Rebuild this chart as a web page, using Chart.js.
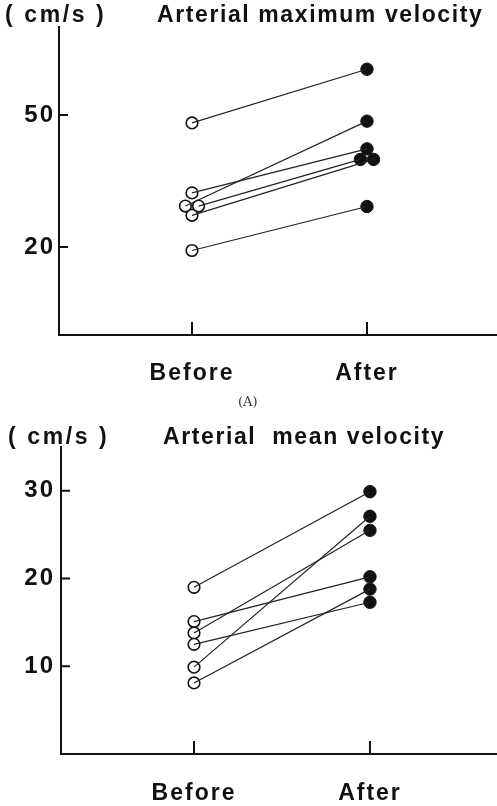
<!DOCTYPE html>
<html>
<head>
<meta charset="utf-8">
<script src="https://cdn.jsdelivr.net/npm/chart.js@4.4.1/dist/chart.umd.min.js"></script>
<style>
  body { margin: 0; background: #fff; }
  #page { position: relative; width: 497px; height: 806px; overflow: hidden;
    font-family: "Liberation Sans", Arial, sans-serif; color: #111; }
  .lbl { position: absolute; font-size: 23px; line-height: 23px; font-weight: bold;
    letter-spacing: 1.6px; white-space: nowrap; }
  .unit { letter-spacing: 2.6px; }
  .box { position: absolute; left: 0; }
  #capA { position: absolute; left: 238px; top: 394px; font: 13px "DejaVu Serif", serif; color: #333; }
</style>
</head>
<body>
<div id="page">
  <div class="box" style="top:0"><canvas id="maxChart" width="497" height="400"></canvas></div>
  <div class="box" style="top:400px"><canvas id="meanChart" width="497" height="406"></canvas></div>

  <div class="lbl unit" style="left:5px;top:3px">( cm/s )</div>
  <div class="lbl" style="left:157px;top:3px">Arterial maximum velocity</div>
  <div id="capA">(A)</div>
  <div class="lbl unit" style="left:8px;top:425px">( cm/s )</div>
  <div class="lbl" style="left:163px;top:425px">Arterial&nbsp; mean velocity</div>
</div>

<script>
// ---- data ----
const categories = ['Before', 'After'];

// (A) arterial maximum velocity, cm/s, one entry per subject
const maxBefore = [48.2, 32.3, 29.3, 29.3, 27.2, 19.2];
const maxAfter  = [60.4, 42.3, 48.6, 39.9, 39.9, 29.2];
const maxTicks  = [20, 50];

// arterial mean velocity, cm/s
const meanBefore = [19.0, 15.1, 13.8, 12.5, 9.9, 8.1];
const meanAfter  = [29.9, 20.2, 25.5, 17.3, 27.1, 18.8];
const meanTicks  = [10, 20, 30];

// ---- helpers ----
// spread equal values sideways so overlapping dots stay visible
function dodge(vals, i, step) {
  const same = vals.map((v, j) => v === vals[i] ? j : -1).filter(j => j >= 0);
  if (same.length < 2) return 0;
  return (same.indexOf(i) - (same.length - 1) / 2) * step;
}

// tick marks point into the plot, like the printed figure
const inwardTicks = {
  id: 'inwardTicks',
  beforeDraw(chart) { chart.ctx.letterSpacing = '2px'; },
  afterDraw(chart) {
    const { ctx, chartArea, scales } = chart;
    ctx.save();
    ctx.strokeStyle = '#111';
    ctx.lineWidth = 2;
    ctx.beginPath();
    scales.y.ticks.forEach(t => {
      const y = scales.y.getPixelForValue(t.value);
      ctx.moveTo(chartArea.left, y); ctx.lineTo(chartArea.left + 9, y);
    });
    scales.x.ticks.forEach(t => {
      const x = scales.x.getPixelForValue(t.value);
      ctx.moveTo(x, chartArea.bottom); ctx.lineTo(x, chartArea.bottom - 13);
    });
    ctx.stroke();
    ctx.restore();
  }
};

function makeChart(id, before, after, yTicks, yMax, lay) {
  const step = 0.075;
  const pts = (vals, base) => vals.map((v, i) => ({ x: base + dodge(vals, i, step), y: v }));
  const bPts = pts(before, 0), aPts = pts(after, 1);

  const lines = before.map((_, i) => ({
    data: [bPts[i], aPts[i]],
    showLine: true,
    borderColor: '#222',
    borderWidth: 1.2,
    pointRadius: 0
  }));

  const tickFont = { family: '"Liberation Sans", Arial, sans-serif', size: 23, weight: 'bold' };

  return new Chart(document.getElementById(id), {
    type: 'scatter',
    data: {
      datasets: [
        ...lines,
        { data: bPts, pointRadius: 5.8, pointBorderWidth: 1.6, pointBackgroundColor: '#fff', pointBorderColor: '#111' },
        { data: aPts, pointRadius: 6.2, pointBorderWidth: 1, pointBackgroundColor: '#111', pointBorderColor: '#111' }
      ]
    },
    options: {
      responsive: false,
      animation: false,
      events: [],
      layout: { autoPadding: false, padding: { top: lay.top, right: 0, left: 0, bottom: 0 } },
      plugins: { legend: { display: false }, tooltip: { enabled: false } },
      scales: {
        x: {
          type: 'linear',
          min: lay.xMin, max: lay.xMax,
          grid: { display: true, drawOnChartArea: false, drawTicks: false },
          border: { display: true, color: '#111', width: 2 },
          afterBuildTicks: s => { s.ticks = categories.map((c, i) => ({ value: i })); },
          afterFit: s => { s.height = lay.xHeight; },
          ticks: { font: tickFont, color: '#111', padding: lay.xPad, maxRotation: 0,
            callback: v => categories[v] }
        },
        y: {
          min: 0, max: yMax,
          grid: { display: true, drawOnChartArea: false, drawTicks: false },
          border: { display: true, color: '#111', width: 2 },
          afterBuildTicks: s => { s.ticks = yTicks.map(v => ({ value: v })); },
          afterFit: s => { s.width = lay.left; },
          ticks: { font: { ...tickFont, size: 24 }, color: '#111', padding: lay.yPad }
        }
      }
    },
    plugins: [inwardTicks]
  });
}

makeChart('maxChart', maxBefore, maxAfter, maxTicks, 70,
  { top: 27, left: 59, xHeight: 65, xPad: 25, yPad: 4, xMin: -0.76, xMax: 1.743 });
makeChart('meanChart', meanBefore, meanAfter, meanTicks, 35,
  { top: 47, left: 61, xHeight: 52, xPad: 26, yPad: 6, xMin: -0.756, xMax: 1.722 });
</script>
</body>
</html>
